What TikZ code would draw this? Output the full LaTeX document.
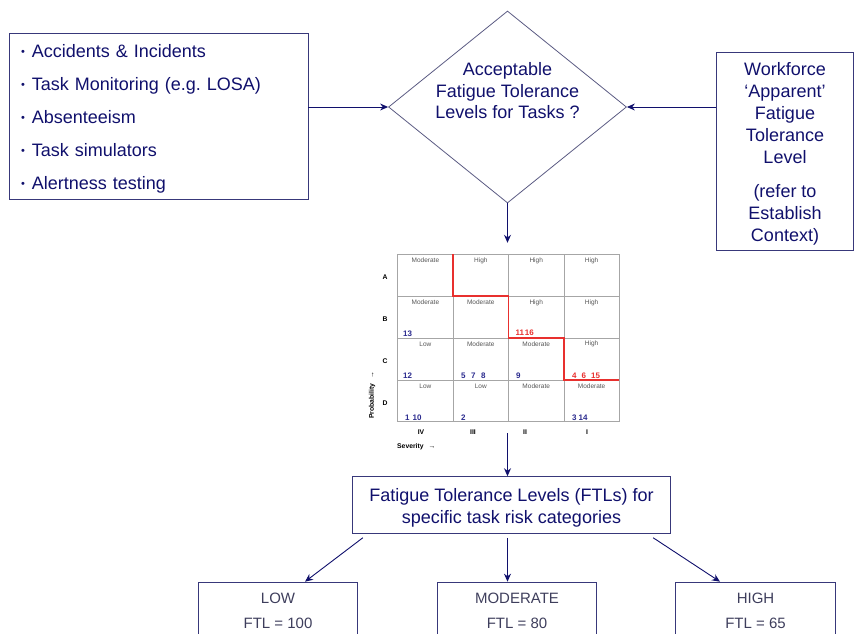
\documentclass[tikz,border=0pt]{standalone}
\usepackage{fontspec}
\setmainfont{Liberation Sans}
\usetikzlibrary{shapes.geometric,arrows.meta,calc}
\definecolor{inkblue}{HTML}{10106C}
\definecolor{frame}{HTML}{38387A}
\definecolor{diamondline}{HTML}{5A5A82}
\definecolor{gridgray}{HTML}{A6A6A6}
\definecolor{cellgray}{HTML}{555555}
\definecolor{riskred}{HTML}{E8302E}
\definecolor{numblue}{HTML}{2A2A8E}
\definecolor{softink}{HTML}{3E3E5C}
\newcommand{\itembul}{\raisebox{1.8pt}{\fontsize{11}{11}\selectfont\textbullet}\hspace{7pt}}
\newcommand{\toppad}{\rule{0pt}{19pt}}

\tikzset{
  srcbox/.style={draw=frame,line width=0.9pt,text=inkblue,inner sep=0pt},
  decision/.style={shape=diamond,draw=diamondline,line width=0.8pt,inner sep=0pt,
    minimum width=238,minimum height=192},
  qtext/.style={align=center,text=inkblue,font=\fontsize{18}{21.5}\selectfont},
  lvlbox/.style={draw=frame,line width=0.9pt,anchor=north,minimum width=159.4,
    inner ysep=10.9,align=center,text=softink,font=\fontsize{15}{25}\selectfont},
  conn/.style={draw=inkblue,line width=0.9pt},
  gridline/.style={gridgray,line width=0.7pt},
  riskline/.style={riskred,line width=1.6pt},
  celltext/.style={text=cellgray,inner sep=0pt,font=\fontsize{6.5}{7}\selectfont},
  axistext/.style={inner sep=0pt,font=\fontsize{6.8}{7}\selectfont\bfseries},
  riskno/.style={inner sep=0pt,anchor=west,font=\fontsize{8}{9}\selectfont\bfseries}
}

\begin{document}
\begin{tikzpicture}[x=1pt,y=-1pt,>={Stealth[length=8pt,width=7pt]}]
  \useasboundingbox (0,0) rectangle (854,634);
  \clip (0,0) rectangle (854,634);
  \node[srcbox,minimum width=299,minimum height=166,text width=275,inner xsep=12,
        align=left,font=\fontsize{18}{33}\selectfont] (sources) at (158.5,116)
    {\toppad\itembul Accidents \& Incidents\\\itembul Task Monitoring (e.g.\ LOSA)\\\itembul Absenteeism\\\itembul Task simulators\\\itembul Alertness testing};
  \node[decision] (accept) at (507.5,107) {};
  \node[qtext] (accepttext) at (507.5,91) {Acceptable\\Fatigue Tolerance\\Levels for Tasks ?};
  \node[srcbox,minimum width=136.6,minimum height=198,align=center,
        font=\fontsize{18}{22}\selectfont] (workforce) at (785,151)
    {\toppad Workforce\\‘Apparent’\\Fatigue\\Tolerance\\Level\\[12pt](refer to\\Establish\\Context)};
  \draw[conn,->] (accept.west -| sources.east) -- (accept.west);
  \draw[conn,->] (accept.east -| workforce.west) -- (accept.east);
  % risk matrix
  \node[minimum width=260,minimum height=190] (riskmat) at (507.5,338) {};
  \draw[conn,->] (accept.south) -- (riskmat.north);
  \foreach \c in {0,...,4} \draw[gridline] (397.7+55.4*\c,254.3) -- (397.7+55.4*\c,421.7);
  \foreach \r in {0,...,4} \draw[gridline] (397.7,254.3+41.85*\r) -- (619.3,254.3+41.85*\r);
  \foreach \labs [count=\r from 0] in {{Moderate,High,High,High},{Moderate,Moderate,High,High},{Low,Moderate,Moderate,High},{Low,Low,Moderate,Moderate}}
    \foreach \t [count=\c from 0] in \labs
      \node[celltext] (cell\r\c) at (425.4+55.4*\c,260.5+41.85*\r) {\t};
  \draw[riskline] (453.1,254.3) -- (453.1,296.15) -- (508.5,296.15) -- (508.5,338)
    -- (563.9,338) -- (563.9,379.85) -- (619.3,379.85);
  \foreach \n/\x/\y [count=\k] in {13/403/333.5, 12/403/376, {5\hspace{5.5pt}7\hspace{5.5pt}8}/461/376, 9/516/376,
      {1\hspace{3pt}10}/405/417.7, 2/461/417.7, {3\hspace{2pt}14}/572/417.7}
    \node[riskno,text=numblue] (num\k) at (\x,\y) {\n};
  \node[riskno,text=riskred] (redB) at (515.5,333) {11\hspace{0.8pt}16};
  \node[riskno,text=riskred] (redC) at (572,376) {4\hspace{5pt}6\hspace{5pt}15};
  \foreach \l [count=\r from 0] in {A,B,C,D}
    \node[axistext] (row\l) at (385,277.5+41.85*\r) {\l};
  \foreach \l/\x in {IV/421,III/473,II/525,I/587}
    \node[axistext] (col\l) at (\x,432) {\l};
  \node[axistext,anchor=west] (sev) at (397,447) {Severity\hspace{5pt}→};
  \node[axistext,anchor=west,rotate=90] (prob) at (372,419) {Probability\hspace{5pt}→};
  % FTL categories
  \node[srcbox,minimum width=318.4,minimum height=56.6,align=center,
        font=\fontsize{18}{21.7}\selectfont] (ftl) at (511.5,505)
    {\toppad Fatigue Tolerance Levels (FTLs) for\\specific task risk categories};
  \draw[conn,->] (riskmat.south) -- (riskmat.south |- ftl.north);
  \node[lvlbox] (low) at (278,581.7) {LOW\\FTL = 100};
  \node[lvlbox] (moderate) at (517,581.7) {MODERATE\\FTL = 80};
  \node[lvlbox] (high) at (755.5,581.7) {HIGH\\FTL = 65};
  \draw[conn,->] ($(ftl.south west)+(11,4)$) -- ($(low.north)+(27,0)$);
  \draw[conn,->] ($(ftl.south)+(-4,4)$) -- (riskmat.south |- moderate.north);
  \draw[conn,->] ($(ftl.south east)+(-18,4)$) -- ($(high.north)+(-35.5,0)$);
\end{tikzpicture}
\end{document}
